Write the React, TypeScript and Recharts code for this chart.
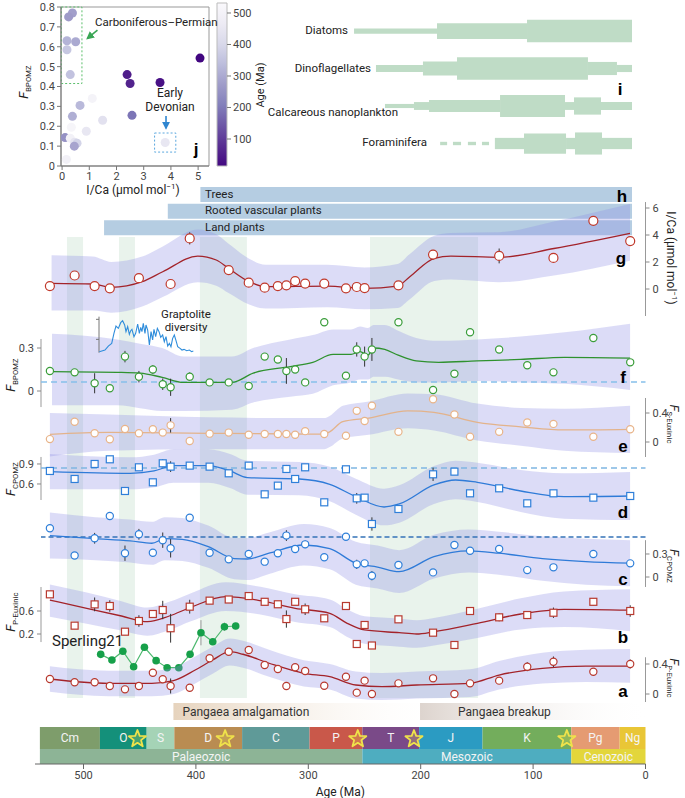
import React from 'react'
import {
  ComposedChart, XAxis, YAxis, Scatter, Line, Area,
  ReferenceArea, ReferenceLine, ErrorBar,
} from 'recharts'

const W = 685
const H = 798
const FONT = 'Roboto, "Liberation Sans", Arial, sans-serif'
const BOLD = '"Liberation Sans", Arial, sans-serif'
const X_L = 41
const X_R = 645.5
const PX_MA = 1.124
const AGE_L = (X_R - X_L) / PX_MA

// ---------- shared sample ages (Ma) for panels a–g
const sampleAges = [529.9, 507.9, 490.1, 476.6, 463.1, 450.7, 438.3, 429.5, 422.5, 405.5, 387.8, 370.8, 353, 338.8, 327.1, 319.5, 311.7, 302.8, 285.8, 266.5, 256.9, 249.9, 243.4, 219.8, 189, 170, 156.1, 130.2, 105.2, 81.9, 46.4, 13.6]

// g  I/Ca
const gVal = [0.22, 1.0, 0.22, 0.05, null, 0.8, null, null, 0.37, 3.75, null, 1.4, 0.47, 0.1, 0.22, 0.27, 0.59, 0.4, 0.4, 0.05, 0.15, 0.07, null, 0.27, 2.55, null, null, 2.45, null, 2.3, 5.05, 3.55]
const gErr = [0, 0, 0, 0, 0, 0, 0, 0, 0, 0.45, 0, 0, 0, 0, 0, 0.3, 0, 0, 0, 0, 0, 0, 0, 0, 0.35, 0, 0, 0.55, 0, 0, 0, 0.35]
const gFitAge = [528.4, 491.8, 475.3, 447.8, 429.5, 398.4, 381.9, 370.9, 352.6, 338, 283, 250, 220.7, 209.7, 187.8, 173.1, 130.2, 81.5, 13.8]
const gFit = [0.42, 0.37, 0.12, 0.54, 1.28, 2.44, 2.15, 1.53, 0.54, 0.17, 0.22, 0.05, 0.22, 0.91, 2.27, 2.44, 2.35, 3.0, 4.12]
const gLo = [-1.6, -1.6, -1.75, -1.3, -0.6, 0.5, 0.25, -0.3, -1.15, -1.45, -1.35, -1.5, -1.4, -0.75, 0.6, 0.7, 0.5, 1.0, 2.1]
const gHi = [2.5, 2.4, 2.0, 2.4, 3.15, 4.4, 4.05, 3.35, 2.25, 1.8, 1.8, 1.6, 1.85, 2.6, 3.95, 4.15, 4.2, 5.0, 6.3]

// f  F_BPOMZ
const fVal = [0.14, 0.13, 0.054, 0.019, 0.24, 0.1, 0.15, 0.047, 0.026, 0.1, 0.06, 0.06, 0.035, 0.24, 0.22, 0.14, 0.15, 0.06, 0.48, 0.107, 0.29, 0.24, 0.29, 0.48, 0.007, 0.12, 0.41, 0.29, 0.18, 0.13, 0.37, 0.2]
const fErr = [0.02, 0.02, 0.07, 0, 0.04, 0.04, 0.03, 0.04, 0.06, 0.03, 0, 0, 0, 0, 0, 0.09, 0, 0, 0, 0, 0.05, 0.07, 0.08, 0, 0, 0, 0, 0, 0.02, 0, 0, 0.02]
const fFitAge = [528, 470, 449.7, 430, 411, 368, 349, 316, 296, 278, 262, 254, 247, 242, 232, 220, 204, 184, 150, 111, 72, 13.7]
const fFit = [0.135, 0.13, 0.125, 0.095, 0.06, 0.06, 0.125, 0.17, 0.2, 0.255, 0.255, 0.275, 0.25, 0.3, 0.29, 0.25, 0.21, 0.2, 0.21, 0.22, 0.235, 0.23]
const fLo = [-0.1, -0.1, -0.12, -0.14, -0.14, -0.13, -0.08, -0.04, -0.02, 0.04, 0.06, 0.08, 0.08, 0.1, 0.1, 0.08, 0.06, 0.06, 0.07, 0.06, 0.05, 0.007]
const fHi = [0.4, 0.36, 0.33, 0.3, 0.24, 0.24, 0.3, 0.36, 0.39, 0.43, 0.43, 0.45, 0.44, 0.46, 0.46, 0.42, 0.37, 0.35, 0.36, 0.38, 0.41, 0.47]

// e  F_S-Euxinic
const eVal = [0.04, 0.28, 0.12, 0.037, 0.18, 0.12, 0.175, 0.13, 0.23, 0.014, 0.115, 0.13, 0.1, 0.11, 0.11, 0.11, 0.1, 0.15, 0.11, 0.087, 0.43, 0.29, 0.5, 0.14, 0.59, 0.38, 0.073, 0.14, 0.27, 0.25, 0.073, 0.175]
const eErr = [0, 0, 0.04, 0, 0.04, 0, 0, 0, 0.1, 0, 0, 0, 0, 0, 0, 0, 0, 0, 0, 0, 0.04, 0, 0.04, 0, 0, 0, 0, 0, 0, 0, 0, 0]
const eFitAge = [529.9, 477.8, 389, 304, 286, 281, 269.3, 246.1, 211.4, 188.2, 149.6, 111, 72.4, 13.7]
const eFit = [0.106, 0.133, 0.12, 0.11, 0.11, 0.14, 0.28, 0.33, 0.43, 0.41, 0.27, 0.21, 0.166, 0.175]
const eLo = [-0.2, -0.12, -0.1, -0.1, -0.1, -0.07, 0.05, 0.1, 0.19, 0.16, 0.02, -0.05, -0.12, -0.15]
const eHi = [0.4, 0.38, 0.34, 0.33, 0.33, 0.36, 0.5, 0.56, 0.67, 0.66, 0.53, 0.47, 0.46, 0.5]

// d  F_CPOMZ
const dVal = [0.795, 0.675, 0.9, 0.97, 0.495, 0.85, 0.625, 0.91, 0.86, 0.875, 0.86, 0.76, 0.875, 0.445, 0.575, 0.825, 0.675, 0.85, 0.325, 0.82, 0.385, 0.395, 0.0, 0.225, 0.745, 0.785, 0.46, 0.535, 0.31, 0.46, 0.395, 0.42]
const dErr = [0, 0, 0.05, 0, 0.06, 0.04, 0, 0.06, 0.08, 0, 0.04, 0, 0, 0, 0, 0.06, 0, 0.05, 0, 0, 0.08, 0, 0.1, 0, 0.1, 0, 0, 0, 0, 0.04, 0, 0.03]
const dFitAge = [529.9, 458.5, 437.2, 419.9, 389, 369.7, 354.2, 307.9, 280.9, 257.7, 232.6, 219.1, 188.2, 168.9, 149.6, 111, 72.4, 13.7]
const dFit = [0.785, 0.76, 0.795, 0.875, 0.875, 0.795, 0.695, 0.675, 0.595, 0.41, 0.255, 0.3, 0.585, 0.66, 0.625, 0.495, 0.41, 0.42]
const dLo = [0.52, 0.52, 0.55, 0.62, 0.62, 0.54, 0.44, 0.43, 0.34, 0.14, -0.02, 0.02, 0.3, 0.37, 0.33, 0.18, 0.08, 0.06]
const dHi = [1.05, 1.0, 1.04, 1.12, 1.12, 1.05, 0.95, 0.93, 0.86, 0.68, 0.53, 0.58, 0.87, 0.95, 0.92, 0.81, 0.76, 0.78]

// c  F_CPOMZ
const cVal = [0.635, 0.28, 0.505, 0.795, 0.31, 0.557, 0.317, 0.48, 0.374, 0.773, 0.317, 0.23, 0.3, 0.2, 0.31, 0.54, 0.365, 0.426, 0.257, 0.525, 0.165, 0.178, 0.017, 0.156, 0.06, 0.417, 0.343, 0.365, 0.09, 0.126, 0.3, 0.178]
const cErr = [0, 0, 0.07, 0, 0.1, 0.07, 0, 0.1, 0.12, 0, 0, 0, 0, 0, 0, 0.07, 0, 0.05, 0, 0, 0.06, 0, 0.06, 0, 0, 0, 0, 0, 0, 0, 0, 0]
const cFitAge = [529.9, 489.4, 458.5, 439.2, 427.6, 412.1, 389, 365.8, 354.2, 334.9, 304, 280.9, 257.7, 238.4, 219.1, 188.2, 157.3, 130.3, 91.7, 53.1, 13.7]
const cFit = [0.54, 0.5, 0.47, 0.44, 0.5, 0.49, 0.395, 0.24, 0.235, 0.31, 0.417, 0.37, 0.18, 0.13, 0.07, 0.265, 0.34, 0.31, 0.24, 0.2, 0.18]
const cLo = [0.24, 0.22, 0.19, 0.16, 0.22, 0.21, 0.12, -0.03, -0.04, 0.04, 0.15, 0.1, -0.1, -0.15, -0.21, -0.02, 0.06, 0.03, -0.05, -0.1, -0.12]
const cHi = [0.84, 0.78, 0.75, 0.72, 0.78, 0.77, 0.67, 0.51, 0.51, 0.58, 0.69, 0.64, 0.46, 0.41, 0.35, 0.55, 0.62, 0.59, 0.53, 0.5, 0.48]

// b  F_P-Euxinic
const bVal = [0.89, 0.345, 0.715, 0.687, 0.24, 0.426, 0.548, 0.617, 0.3, 0.675, 0.78, 0.8, 0.86, 0.76, 0.717, 0.46, 0.76, 0.63, 0.473, 0.687, 0.026, 0.357, 0.0, 0.455, 0.223, 0.009, 0.6, 0.49, 0.53, 0.57, 0.76, 0.6]
const bErr = [0, 0, 0.12, 0.1, 0, 0.1, 0, 0.16, 0.25, 0.12, 0, 0, 0, 0, 0, 0.15, 0, 0.1, 0, 0, 0, 0, 0, 0, 0, 0, 0, 0.07, 0.07, 0.09, 0.06, 0.1]
const bFitAge = [529.9, 497.1, 466.2, 443, 423.7, 404.4, 373.5, 342.6, 311.7, 280.9, 265.4, 250, 219.1, 203.6, 188.2, 149.6, 111, 72.4, 13.7]
const bFit = [0.79, 0.647, 0.513, 0.414, 0.513, 0.665, 0.85, 0.78, 0.647, 0.56, 0.386, 0.27, 0.223, 0.2, 0.24, 0.386, 0.548, 0.63, 0.615]
const bLo = [0.5, 0.38, 0.26, 0.17, 0.27, 0.42, 0.6, 0.54, 0.41, 0.32, 0.15, 0.03, -0.02, -0.04, 0.0, 0.13, 0.28, 0.32, 0.25]
const bHi = [1.06, 0.92, 0.77, 0.66, 0.76, 0.91, 1.1, 1.02, 0.89, 0.8, 0.63, 0.51, 0.47, 0.44, 0.48, 0.64, 0.82, 0.94, 0.98]

// a  F_P-Euxinic
const aVal = [0.2, 0.156, 0.156, 0.107, 0.062, 0.107, 0.284, 0.196, 0.107, 0.084, 0.476, 0.564, 0.587, 0.387, 0.333, 0.107, 0.356, 0.307, 0.111, 0.231, 0.018, 0.178, 0.0, 0.142, 0.209, 0.0, 0.142, 0.178, 0.364, 0.43, 0.297, 0.4]
const aErr = [0.03, 0, 0.05, 0, 0, 0.04, 0, 0.05, 0.1, 0, 0, 0, 0.05, 0, 0, 0, 0, 0.05, 0, 0, 0, 0, 0, 0, 0, 0, 0, 0, 0.06, 0.07, 0, 0.06]
const aFitAge = [529.9, 477.8, 439.2, 419.9, 400.6, 385.1, 369.7, 358.1, 334.9, 304, 280.9, 257.7, 234.5, 203.6, 156.1, 130.3, 91.7, 53.1, 13.7]
const aFit = [0.2, 0.142, 0.142, 0.178, 0.32, 0.453, 0.564, 0.53, 0.41, 0.276, 0.231, 0.12, 0.098, 0.12, 0.142, 0.253, 0.343, 0.373, 0.373]
const aLo = [0.03, -0.03, -0.03, 0.0, 0.14, 0.27, 0.38, 0.35, 0.23, 0.1, 0.06, -0.06, -0.08, -0.06, -0.04, 0.06, 0.14, 0.16, 0.15]
const aHi = [0.37, 0.31, 0.31, 0.35, 0.5, 0.63, 0.74, 0.71, 0.59, 0.45, 0.4, 0.3, 0.28, 0.3, 0.33, 0.44, 0.55, 0.59, 0.6]

// Sperling21 compilation
const spAge = [484.7, 474.7, 465, 455.4, 445.8, 435.4, 425.6, 415.2, 405.2, 395.5, 385, 374.6, 364.6]
const spVal = [0.18, 0.126, 0.21, 0.062, 0.247, 0.12, 0.053, 0.053, 0.18, 0.386, 0.3, 0.443, 0.45]
const spErr = [0, 0, 0, 0, 0, 0, 0, 0, 0, 0.12, 0, 0.04, 0.03]

// graptolite diversity
const graptAge = [485.9, 480.9, 477.9, 474.9, 472.9, 471.1, 469, 466.9, 465.2, 463.4, 462.2, 460.7, 459.2, 458, 456.9, 455.1, 453.6, 451.8, 450.3, 449.1, 448, 446.8, 445.3, 444.4, 442.9, 441.4, 439.9, 438.5, 437.3, 435.8, 434.3, 432.8, 431.3, 429.6, 428.1, 426.6, 425.1, 423.6, 422.2, 420.7, 419.2, 417.7, 416.2, 414.1, 412.4, 410.6, 408.2, 405.8, 403.8, 402.3]
const graptDiv = [1.5, 4, 10, 14, 29, 40, 36.5, 45, 48, 41.5, 31.5, 39, 27.5, 33, 35, 24, 29, 43, 29, 38, 31.5, 44, 29, 41.5, 34, 11.5, 31.5, 19, 35, 24, 36.5, 31.5, 23, 26.5, 16.5, 24, 10, 14, 9, 21.5, 26.5, 18, 9, 6.5, 4, 5, 3, 4, 1.5, 2.5]

// vertical event bands (Ma)
const eventStart = [514.7, 468.4, 396.4, 245.1]
const eventEnd = [500.4, 454.2, 354.6, 149]

// h  plant groups
const plantGroups = ['Trees', 'Rooted vascular plants', 'Land plants']
const plantFirst = [396, 425, 481.7]
const plantLast = 12

// i  plankton groups: range breaks (Ma) and relative diversity levels
const taxa = ['Diatoms', 'Dinoflagellates', 'Calcareous nanoplankton', 'Foraminifera']
const taxaBreaks = [
  [259.3, 185.5, 105.4, 12],
  [239.8, 198, 167.7, 51.2, 25.4, 12],
  [231.8, 206, 192.6, 129.4, 71.6, 63.6, 39.6, 12],
  [134, 108.1, 70.7, 62.7, 38.7, 12],
]
const taxaLevels = [
  [0.7, 2.1, 3.0],
  [0.95, 1.85, 3.0, 1.75, 0.95],
  [0.55, 1.05, 1.6, 2.95, 1.05, 2.3, 1.05],
  [1.5, 2.7, 1.5, 2.95, 1.5],
]
const foramDashStart = [182.7, 171.3, 158, 145.5]
const foramDashEnd = [176.5, 164.1, 150.8, 139.2]

// j  inset
const jICa = [0.38, 0.24, 0.18, 0.5, 0.18, 0.3, 5.07, 2.39, 2.5, 3.6, 1.11, 0.66, 0.38, 1.49, 0.34, 0.89, 2.57, 0.11, 0.3, 0.46, 0.55, 0.45, 3.79, 0.16]
const jF = [0.77, 0.75, 0.63, 0.625, 0.585, 0.46, 0.543, 0.46, 0.415, 0.42, 0.34, 0.305, 0.25, 0.23, 0.195, 0.175, 0.255, 0.143, 0.14, 0.12, 0.115, 0.1, 0.118, 0.033]
const jAge = [280, 270, 320, 300, 360, 350, 10, 50, 60, 30, 500, 330, 310, 430, 510, 450, 190, 250, 490, 440, 390, 290, 450, 490]

// geologic timescale
const periods = ['Cm', 'O', 'S', 'D', 'C', 'P', 'T', 'J', 'K', 'Pg', 'Ng']
const periodBase = [538.8, 485.4, 443.8, 419.2, 358.9, 298.9, 251.9, 201.4, 145, 66, 23]
const periodTop = [485.4, 443.8, 419.2, 358.9, 298.9, 251.9, 201.4, 145, 66, 23, 0]
const eras = ['Palaeozoic', 'Mesozoic', 'Cenozoic']
const eraBase = [538.8, 251.9, 66]
const eraTop = [251.9, 66, 0]
const extinctionAges = [452, 374, 256, 206, 70]
const pangaea = ['Pangaea amalgamation', 'Pangaea breakup']
const pangaeaStart = [420, 200.6]
const pangaeaEnd = [175, 0]
const ageTicks = [500, 400, 300, 200, 100, 0]

// ---------- styles
const periodColor: Record<string, string> = {
  Cm: '#7e9d6b', O: '#14907a', S: '#a5d3b6', D: '#b98c52', C: '#5f9a98', P: '#c9584a',
  T: '#7a4a88', J: '#2b9bc2', K: '#73ad5c', Pg: '#e59b72', Ng: '#e9c636',
}
const eraColor: Record<string, string> = { Palaeozoic: '#8db496', Mesozoic: '#4eadc0', Cenozoic: '#e3d63b' }
const purples = ['#3f007d', '#54278f', '#6a51a3', '#807dba', '#9e9ac8', '#bcbddc', '#dadaeb', '#efedf5', '#fcfbfd']

function hex(c: string) { return [1, 3, 5].map((i) => parseInt(c.slice(i, i + 2), 16)) }
function ageColor(age: number) {
  const t = Math.min(1, Math.max(0, age / 540)) * 8
  const i = Math.min(7, Math.floor(t))
  const f = t - i
  const a = hex(purples[i]), b = hex(purples[i + 1])
  const m = a.map((v, k) => Math.round(v + (b[k] - v) * f))
  return `rgb(${m[0]},${m[1]},${m[2]})`
}

const pts = (vals: (number | null)[], errs: number[]) =>
  sampleAges.map((age, i) => ({ age, v: vals[i], err: errs[i] })).filter((d) => d.v !== null)
const fitRows = (ages: number[], fit: number[], lo: number[], hi: number[]) =>
  ages.map((age, i) => ({ age, fit: fit[i], band: [lo[i], hi[i]] }))

const circle = (color: string, r: number) => (p: any) =>
  <circle cx={p.cx} cy={p.cy} r={r} fill="#fff" stroke={color} strokeWidth={1.2} />
const square = (color: string, s: number) => (p: any) =>
  <rect x={p.cx - s / 2} y={p.cy - s / 2} width={s} height={s} fill="#fff" stroke={color} strokeWidth={1.2} />

function starPath(cx: number, cy: number, R: number, r: number) {
  let d = ''
  for (let i = 0; i < 10; i++) {
    const a = -Math.PI / 2 + (i * Math.PI) / 5
    const rr = i % 2 ? r : R
    d += (i ? 'L' : 'M') + (cx + rr * Math.cos(a)).toFixed(2) + ',' + (cy + rr * Math.sin(a)).toFixed(2)
  }
  return d + 'Z'
}

const fmt = (v: number) => (v === 0 ? '0' : String(v))
const tickStyle = { fontSize: 11, fill: '#444', fontFamily: FONT }

type PanelProps = {
  top: number; height: number; y0: number; k: number; side: 'left' | 'right'
  ticks: number[]; axisSpan: [number, number]; data: any[]; fit: any[]
  mark: (p: any) => React.ReactElement; lineColor: string
  refY?: number; refColor?: string; refDash?: string; children?: React.ReactNode
}

function Panel(p: PanelProps) {
  const domain = [(p.y0 - p.top - p.height) / p.k, (p.y0 - p.top) / p.k]
  const yw = 36
  const margin = p.side === 'left'
    ? { top: 0, bottom: 0, left: X_L - yw, right: W - X_R }
    : { top: 0, bottom: 0, left: X_L, right: W - X_R - yw }
  const axX = p.side === 'left' ? AGE_L : 0
  return (
    <div style={{ position: 'absolute', left: 0, top: p.top, width: W, height: p.height }}>
      <ComposedChart width={W} height={p.height} margin={margin}>
        <XAxis type="number" dataKey="age" domain={[0, AGE_L]} reversed hide allowDataOverflow />
        <YAxis type="number" orientation={p.side} width={yw} domain={domain} allowDataOverflow
          ticks={p.ticks} interval={0} axisLine={false} tickLine={{ stroke: '#888' }} tickSize={4}
          tickMargin={3} tick={tickStyle} tickFormatter={fmt} />
        <Area data={p.fit} dataKey="band" type="monotone" stroke="none" fill="#8a8ae6"
          fillOpacity={0.3} isAnimationActive={false} />
        <ReferenceLine segment={[{ x: axX, y: p.axisSpan[0] }, { x: axX, y: p.axisSpan[1] }]}
          stroke="#999" ifOverflow="visible" />
        {p.refY !== undefined && (
          <ReferenceLine y={p.refY} stroke={p.refColor} strokeDasharray={p.refDash} strokeWidth={1.5} />
        )}
        <Line data={p.fit} dataKey="fit" type="monotone" stroke={p.lineColor} strokeWidth={1.3}
          dot={false} isAnimationActive={false} />
        <Scatter data={p.data} dataKey="v" shape={p.mark} isAnimationActive={false}>
          <ErrorBar dataKey="err" direction="y" width={0} stroke="#333" strokeWidth={1} />
        </Scatter>
        {p.children}
      </ComposedChart>
    </div>
  )
}

function Txt({ x, y, rot = 0, size = 11.5, anchor = 'middle', children, style }: any) {
  const tx = anchor === 'middle' ? '-50%' : anchor === 'end' ? '-100%' : '0'
  return (
    <div style={{
      position: 'absolute', left: x, top: y, whiteSpace: 'nowrap', fontSize: size, lineHeight: 1.15,
      transform: `translate(${tx}, -50%) rotate(${rot}deg)`, color: '#222', ...style,
    }}>{children}</div>
  )
}

const FLabel = ({ sub }: { sub: string }) => (
  <span style={{ fontSize: 13 }}>
    <i>F</i><span style={{ fontSize: 7.5, position: 'relative', top: 3, letterSpacing: 0.2 }}>{sub}</span>
  </span>
)

const Letter = ({ x, y, c }: { x: number; y: number; c: string }) => (
  <Txt x={x} y={y} size={17} style={{ fontFamily: BOLD, fontWeight: 700, color: '#000' }}>{c}</Txt>
)

export default function App() {
  if (typeof document !== 'undefined') document.body.style.margin = '0'

  const baseX = { type: 'number' as const, dataKey: 'age', domain: [0, AGE_L], reversed: true, hide: true, allowDataOverflow: true }
  const mainMargin = { top: 0, bottom: 0, left: X_L, right: W - X_R }
  const spDomain = [(673.25 - 675) / 105, (673.25 - 570) / 105]
  const TS_L = (X_R - 35) / PX_MA
  const I_L = (X_R - 330) / PX_MA
  const cbStops = [0, 0.125, 0.25, 0.375, 0.5, 0.625, 0.75, 0.875, 1]

  return (
    <div style={{ position: 'relative', width: W, height: H, background: '#fff', fontFamily: FONT, color: '#222', overflow: 'hidden' }}>
      {/* event bands */}
      <div style={{ position: 'absolute', left: 0, top: 237, width: W, height: 461 }}>
        <ComposedChart width={W} height={461} margin={mainMargin}>
          <XAxis {...baseX} />
          <YAxis hide type="number" domain={[0, 1]} allowDataOverflow />
          {eventStart.map((s, i) => (
            <ReferenceArea key={i} x1={s} x2={eventEnd[i]} y1={0} y2={1} fill="#9cc9aa" fillOpacity={0.22} stroke="none" />
          ))}
        </ComposedChart>
      </div>

      {/* h plant groups */}
      <div style={{ position: 'absolute', left: 0, top: 187, width: W, height: 50 }}>
        <ComposedChart width={W} height={50} margin={mainMargin}>
          <XAxis {...baseX} />
          <YAxis hide type="number" domain={[0, 3]} allowDataOverflow />
          {plantGroups.map((g, i) => (
            <ReferenceArea key={g} x1={plantFirst[i]} x2={plantLast} y1={2 - i + 0.1} y2={3 - i}
              fill="#b5cde2" fillOpacity={1} stroke="none" />
          ))}
        </ComposedChart>
      </div>

      <Panel top={190} height={140} y0={289} k={13.5} side="right" ticks={[0, 2, 4, 6]} axisSpan={[-2, 6.44]}
        data={pts(gVal, gErr)} fit={fitRows(gFitAge, gFit, gLo, gHi)} mark={circle('#c0392b', 4.5)} lineColor="#a3232a" />

      <Panel top={300} height={130} y0={391} k={143.3} side="left" ticks={[0, 0.3]} axisSpan={[-0.112, 0.363]}
        data={pts(fVal, fErr)} fit={fitRows(fFitAge, fFit, fLo, fHi)} mark={circle('#3a9d3a', 3.6)} lineColor="#2f922f"
        refY={0.063} refColor="#86c0ea" refDash="6 4" />

      {/* graptolite diversity */}
      <div style={{ position: 'absolute', left: 95, top: 314, width: 100, height: 40 }}>
        <ComposedChart width={100} height={40} margin={{ top: 0, bottom: 0, left: 0, right: 1 }}>
          <XAxis type="number" dataKey="age" domain={[401.7, 486.2]} reversed hide allowDataOverflow />
          <YAxis type="number" width={4} domain={[-1.95, 58]} ticks={[20, 50]} interval={0} axisLine={false}
            tickLine={{ stroke: '#777' }} tickSize={3} tickFormatter={() => ''} allowDataOverflow />
          <ReferenceLine segment={[{ x: 486.2, y: 0 }, { x: 486.2, y: 54 }]} stroke="#777" ifOverflow="visible" />
          <Line data={graptAge.map((age, i) => ({ age, div: graptDiv[i] }))} dataKey="div" type="linear"
            stroke="#2f8ddb" strokeWidth={1.1} dot={false} isAnimationActive={false} />
        </ComposedChart>
      </div>

      <Panel top={370} height={100} y0={442} k={72.5} side="right" ticks={[0, 0.4]} axisSpan={[-0.207, 0.607]}
        data={pts(eVal, eErr)} fit={fitRows(eFitAge, eFit, eLo, eHi)} mark={circle('#e8b48a', 3.6)} lineColor="#e3b38b" />

      <Panel top={440} height={100} y0={524} k={66.7} side="left" ticks={[0.6, 0.9]} axisSpan={[0.36, 1.005]}
        data={pts(dVal, dErr)} fit={fitRows(dFitAge, dFit, dLo, dHi)} mark={square('#2f7fd9', 7)} lineColor="#2f7bd8"
        refY={0.84} refColor="#7fb6e2" refDash="6 4" />

      <Panel top={500} height={105} y0={577} k={76.7} side="right" ticks={[0, 0.3]} axisSpan={[-0.13, 0.48]}
        data={pts(cVal, cErr)} fit={fitRows(cFitAge, cFit, cLo, cHi)} mark={circle('#2f7fd9', 3.6)} lineColor="#2f7bd8"
        refY={0.52} refColor="#3473b8" refDash="5 3" />

      <Panel top={570} height={105} y0={645.5} k={57.5} side="left" ticks={[0.2, 0.6]} axisSpan={[0.06, 1.017]}
        data={pts(bVal, bErr)} fit={fitRows(bFitAge, bFit, bLo, bHi)} mark={square('#b83a30', 7)} lineColor="#a3232a">
        <YAxis yAxisId="sp" hide type="number" domain={spDomain} allowDataOverflow />
        <Line yAxisId="sp" data={spAge.map((age, i) => ({ age, sp: spVal[i] }))} dataKey="sp" type="linear"
          stroke="#4cb86e" strokeWidth={1.2} dot={false} isAnimationActive={false} />
        <Scatter yAxisId="sp" data={spAge.map((age, i) => ({ age, sp: spVal[i], err: spErr[i] }))} dataKey="sp"
          isAnimationActive={false}
          shape={(q: any) => <circle cx={q.cx} cy={q.cy} r={3.8} fill="#17a04a" stroke="none" />}>
          <ErrorBar dataKey="err" direction="y" width={0} stroke="#999" strokeWidth={1} />
        </Scatter>
      </Panel>

      <Panel top={630} height={80} y0={694} k={75} side="right" ticks={[0, 0.4]} axisSpan={[-0.107, 0.49]}
        data={pts(aVal, aErr)} fit={fitRows(aFitAge, aFit, aLo, aHi)} mark={circle('#b83a30', 3.6)} lineColor="#a3232a" />

      {/* timescale */}
      <div style={{ position: 'absolute', left: 0, top: 695, width: W, height: 103 }}>
        <ComposedChart width={W} height={103} margin={{ top: 0, bottom: 0, left: 35, right: W - X_R }}>
          <defs>
            <linearGradient id="pg0" x1="0" y1="0" x2="1" y2="0">
              <stop offset="0" stopColor="#e6d3bd" stopOpacity={1} />
              <stop offset="1" stopColor="#ffffff" stopOpacity={0} />
            </linearGradient>
            <linearGradient id="pg1" x1="0" y1="0" x2="1" y2="0">
              <stop offset="0" stopColor="#ddd4ce" stopOpacity={1} />
              <stop offset="1" stopColor="#ffffff" stopOpacity={0.1} />
            </linearGradient>
          </defs>
          <XAxis type="number" dataKey="age" domain={[0, TS_L]} reversed allowDataOverflow ticks={ageTicks}
            interval={0} height={34} tickSize={5} axisLine={{ stroke: '#666' }} tickLine={{ stroke: '#666' }}
            tick={tickStyle}
            label={{ value: 'Age (Ma)', position: 'insideBottom', offset: 2, fontSize: 12, fill: '#222', fontFamily: FONT }} />
          <YAxis hide type="number" domain={[0, 69]} allowDataOverflow />
          {pangaea.map((name, i) => (
            <ReferenceArea key={name} x1={pangaeaStart[i]} x2={pangaeaEnd[i]} y1={44} y2={61}
              fill={`url(#pg${i})`} fillOpacity={1} stroke="none"
              label={{ value: name, position: 'insideLeft', offset: i === 0 ? 9 : 38, fontSize: 12, fill: '#333', fontFamily: FONT }} />
          ))}
          {periods.map((p, i) => (
            <ReferenceArea key={p} x1={periodBase[i]} x2={periodTop[i]} y1={15} y2={37}
              fill={periodColor[p]} fillOpacity={1} stroke="none"
              label={{ value: p, position: 'center', fontSize: 12, fill: '#f4f4f4', fontFamily: FONT }} />
          ))}
          {eras.map((e, i) => (
            <ReferenceArea key={e} x1={eraBase[i]} x2={eraTop[i]} y1={0} y2={15}
              fill={eraColor[e]} fillOpacity={1} stroke="none"
              label={{ value: e, position: 'center', fontSize: 12, fill: '#f4f4f4', fontFamily: FONT }} />
          ))}
          <Scatter data={extinctionAges.map((age) => ({ age, row: 25 }))} dataKey="row" isAnimationActive={false}
            shape={(q: any) => <path d={starPath(q.cx, q.cy, 9, 3.8)} fill="#e6da55" fillOpacity={0.25}
              stroke="#efe24a" strokeWidth={1.8} strokeLinejoin="round" />} />
        </ComposedChart>
      </div>

      {/* i plankton groups */}
      <div style={{ position: 'absolute', left: 0, top: 0, width: W, height: 170 }}>
        <ComposedChart width={W} height={170} margin={{ top: 0, bottom: 0, left: 330, right: W - X_R }}>
          <XAxis type="number" dataKey="age" domain={[0, I_L]} reversed hide allowDataOverflow />
          <YAxis type="number" hide reversed domain={[-31 / 37.5, 139 / 37.5]} allowDataOverflow />
          {taxaBreaks.map((br, t) => br.slice(0, -1).map((from, s) => (
            <ReferenceArea key={`${t}-${s}`} x1={from} x2={br[s + 1]}
              y1={t - taxaLevels[t][s] * 0.1} y2={t + taxaLevels[t][s] * 0.1}
              fill="#bfdcc6" fillOpacity={1} stroke="none" />
          )))}
          {foramDashStart.map((s, i) => (
            <ReferenceArea key={`fd${i}`} x1={s} x2={foramDashEnd[i]} y1={3 - 0.045} y2={3 + 0.045}
              fill="#bfdcc6" fillOpacity={1} stroke="none" />
          ))}
        </ComposedChart>
      </div>

      {/* j inset */}
      <div style={{ position: 'absolute', left: 0, top: 0, width: 262, height: 200 }}>
        <ComposedChart width={262} height={200} margin={{ top: 7, left: 31, right: 53, bottom: 14 }}>
          <defs>
            <marker id="arrG" viewBox="0 0 10 10" refX="8" refY="5" markerWidth="5" markerHeight="5" orient="auto">
              <path d="M0,0 L10,5 L0,10 z" fill="#3aa655" />
            </marker>
            <marker id="arrB" viewBox="0 0 10 10" refX="8" refY="5" markerWidth="5" markerHeight="5" orient="auto">
              <path d="M0,0 L10,5 L0,10 z" fill="#2f86d0" />
            </marker>
          </defs>
          <XAxis type="number" dataKey="x" domain={[-0.04, 5.4]} ticks={[0, 1, 2, 3, 4, 5]} interval={0}
            allowDataOverflow height={20} tickSize={4} axisLine={{ stroke: '#777' }} tickLine={{ stroke: '#777' }} tick={tickStyle} />
          <YAxis type="number" domain={[0, 0.8]} ticks={[0, 0.1, 0.2, 0.3, 0.4, 0.5, 0.6, 0.7, 0.8]} interval={0} allowDataOverflow
            width={30} tickSize={4} axisLine={{ stroke: '#777' }} tickLine={{ stroke: '#777' }} tick={tickStyle} tickFormatter={fmt} />
          <ReferenceArea x1={-0.04} x2={5.4} y1={0} y2={0.8} fill="none" stroke="#999" ifOverflow="visible" />
          <ReferenceArea x1={-0.03} x2={0.73} y1={0.415} y2={0.8} fill="none" stroke="#5cbf6c" strokeDasharray="2 2" ifOverflow="visible" />
          <ReferenceArea x1={3.4} x2={4.18} y1={0.07} y2={0.166} fill="none" stroke="#5aa7de" strokeDasharray="2 2" ifOverflow="visible" />
          <ReferenceLine segment={[{ x: 1.3, y: 0.684 }, { x: 0.93, y: 0.642 }]} ifOverflow="visible"
            shape={(q: any) => <line x1={q.x1} y1={q.y1} x2={q.x2} y2={q.y2} stroke="#3aa655" strokeWidth={1.6} markerEnd="url(#arrG)" />} />
          <ReferenceLine segment={[{ x: 3.82, y: 0.252 }, { x: 3.82, y: 0.19 }]} ifOverflow="visible"
            shape={(q: any) => <line x1={q.x1} y1={q.y1} x2={q.x2} y2={q.y2} stroke="#2f86d0" strokeWidth={1.6} markerEnd="url(#arrB)" />} />
          <Scatter data={jICa.map((x, i) => ({ x, y: jF[i], age: jAge[i] }))} dataKey="y" isAnimationActive={false}
            shape={(q: any) => <circle cx={q.cx} cy={q.cy} r={4.5} fill={ageColor(q.payload.age)} />} />
        </ComposedChart>
      </div>

      {/* j colour bar */}
      <div style={{ position: 'absolute', left: 200, top: 0, width: 62, height: 175 }}>
        <ComposedChart width={62} height={175} margin={{ top: 3, bottom: 9, left: 17, right: 0 }}>
          <defs>
            <linearGradient id="cbar" x1="0" y1="0" x2="0" y2="1">
              {cbStops.map((o) => <stop key={o} offset={o} stopColor={ageColor(531.7 - o * 517.4)} />)}
            </linearGradient>
          </defs>
          <XAxis type="number" dataKey="x" domain={[0, 1]} hide allowDataOverflow />
          <YAxis type="number" orientation="right" domain={[14.3, 531.7]} ticks={[100, 200, 300, 400, 500]} interval={0}
            width={35} axisLine={false} tickSize={4} tickLine={{ stroke: '#777' }} tick={tickStyle} allowDataOverflow />
          <ReferenceArea x1={0} x2={1} y1={14.3} y2={531.7} fill="url(#cbar)" fillOpacity={1} stroke="#bbb" />
        </ComposedChart>
      </div>

      {/* text: inset j */}
      <Txt x={24} y={82} rot={-90}><FLabel sub="BPOMZ" /></Txt>
      <Txt x={133} y={190} size={12}>I/Ca (μmol mol<sup style={{ fontSize: 8 }}>−1</sup>)</Txt>
      <Txt x={261} y={85} rot={-90} size={11}>Age (Ma)</Txt>
      <Txt x={95} y={23} anchor="start" size={11.5}>Carboniferous–Permian</Txt>
      <Txt x={170} y={101} size={12} style={{ textAlign: 'center' }}>Early<br />Devonian</Txt>
      <Letter x={196} y={150} c="j" />

      {/* text: panel i */}
      {taxa.map((t, i) => (
        <Txt key={t} x={[348, 371, 398, 427][i]} y={[31, 69, 113, 143][i]} anchor="end" size={11.5}>{t}</Txt>
      ))}
      <Letter x={620} y={90} c="i" />

      {/* text: panel h */}
      {plantGroups.map((g, i) => (
        <Txt key={g} x={205} y={[195, 211, 228][i]} anchor="start" size={11.5}>{g}</Txt>
      ))}
      <Letter x={622} y={197} c="h" />

      <Txt x={186} y={321} size={11.5} style={{ textAlign: 'center' }}>Graptolite<br />diversity</Txt>
      <Txt x={52} y={642} anchor="start" size={15}>Sperling21</Txt>

      {/* axis labels */}
      <Txt x={671} y={258} rot={90} size={12}>I/Ca (μmol mol<sup style={{ fontSize: 8 }}>−1</sup>)</Txt>
      <Txt x={11} y={375} rot={-90}><FLabel sub="BPOMZ" /></Txt>
      <Txt x={674} y={424} rot={90}><FLabel sub="S-Euxinic" /></Txt>
      <Txt x={11} y={479} rot={-90}><FLabel sub="CPOMZ" /></Txt>
      <Txt x={674} y={566} rot={90}><FLabel sub="CPOMZ" /></Txt>
      <Txt x={11} y={612} rot={-90}><FLabel sub="P-Euxinic" /></Txt>
      <Txt x={674} y={678} rot={90}><FLabel sub="P-Euxinic" /></Txt>

      <Letter x={621} y={259} c="g" />
      <Letter x={623} y={378} c="f" />
      <Letter x={623} y={447} c="e" />
      <Letter x={623} y={513} c="d" />
      <Letter x={623} y={580} c="c" />
      <Letter x={623} y={638} c="b" />
      <Letter x={623} y={692} c="a" />
    </div>
  )
}
